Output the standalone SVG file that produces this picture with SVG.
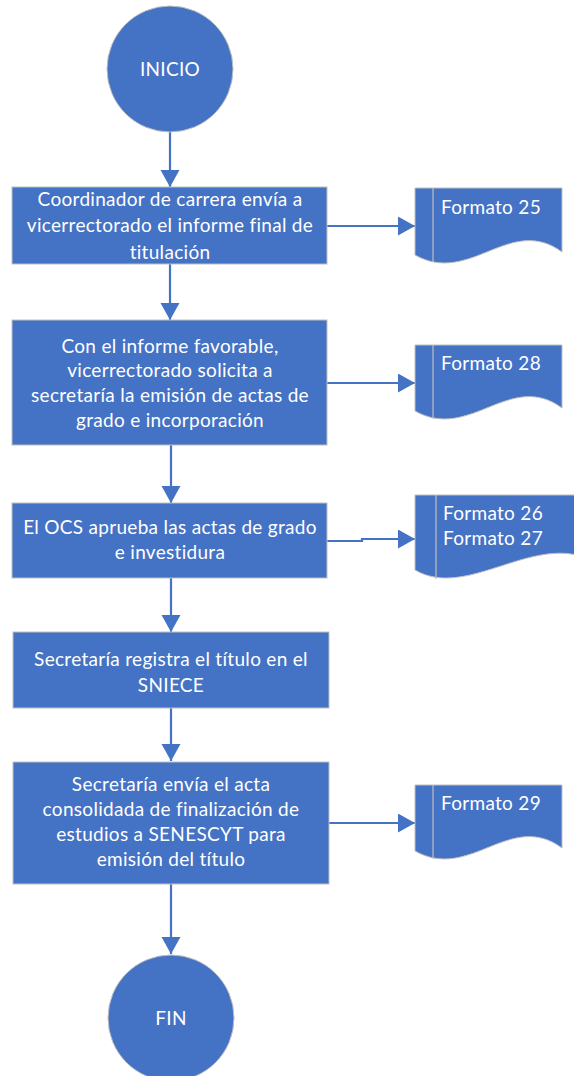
<svg xmlns="http://www.w3.org/2000/svg" width="574" height="1076" viewBox="0 0 574 1076">
<style>
.shape{fill:#4472C4;stroke:#BFBFBF;stroke-width:1}
.inner{fill:none;stroke:#BFBFBF;stroke-width:1.2}
.t{fill:#FFFFFF;font-family:Lato,"Liberation Sans",sans-serif;font-size:19px;letter-spacing:0.3px}
.c{text-anchor:middle}
.conn{fill:none;stroke:#4472C4;stroke-width:2.2}
</style>
<defs>
<marker id="ah" markerUnits="userSpaceOnUse" markerWidth="20" markerHeight="20" refX="17" refY="9.5" orient="auto">
<path d="M0,0 L17,9.5 L0,19 Z" fill="#4472C4"/>
</marker>
</defs>
<rect width="574" height="1076" fill="#FFFFFF"/>
<g id="connectors">
<path class="conn" d="M170,132 V187" marker-end="url(#ah)"/>
<path class="conn" d="M170,264 V320" marker-end="url(#ah)"/>
<path class="conn" d="M171,445 V503" marker-end="url(#ah)"/>
<path class="conn" d="M171,578 V632" marker-end="url(#ah)"/>
<path class="conn" d="M171,708 V761" marker-end="url(#ah)"/>
<path class="conn" d="M171,884 V954" marker-end="url(#ah)"/>
<path class="conn" d="M327,226 H415" marker-end="url(#ah)"/>
<path class="conn" d="M327,383 H415" marker-end="url(#ah)"/>
<path class="conn" d="M327,541 H362 V539 H415" marker-end="url(#ah)"/>
<path class="conn" d="M327,823 H415" marker-end="url(#ah)"/>
</g>
<g id="inicio">
<circle class="shape" cx="170" cy="69" r="63"/>
<text class="t c" x="170" y="76">INICIO</text>
</g>
<g id="paso1">
<rect class="shape" x="12" y="187" width="315" height="77"/>
<text class="t c" x="170" y="206">Coordinador de carrera envía a</text>
<text class="t c" x="170" y="232">vicerrectorado el informe final de</text>
<text class="t c" x="170" y="259">titulación</text>
</g>
<g id="formato25">
<path class="shape" d="M415,188 H562 V252 C510,214 470,286 415,255 Z"/>
<path class="inner" d="M433,188 V262"/>
<text class="t" x="441" y="214">Formato 25</text>
</g>
<g id="paso2">
<rect class="shape" x="12" y="320" width="315" height="125"/>
<text class="t c" x="170" y="353">Con el informe favorable,</text>
<text class="t c" x="170" y="377">vicerrectorado solicita a</text>
<text class="t c" x="170" y="402">secretaría la emisión de actas de</text>
<text class="t c" x="170" y="427">grado e incorporación</text>
</g>
<g id="formato28">
<path class="shape" d="M415,345 H562 V408 C510,370 470,442 415,411 Z"/>
<path class="inner" d="M433,345 V419"/>
<text class="t" x="441" y="370">Formato 28</text>
</g>
<g id="paso3">
<rect class="shape" x="12" y="503" width="315" height="75"/>
<text class="t c" x="170" y="534">El OCS aprueba las actas de grado</text>
<text class="t c" x="170" y="559">e investidura</text>
</g>
<g id="formato26_27">
<path class="shape" d="M415,495 H600 V565 C540,525 470,602 415,570 Z"/>
<path class="inner" d="M436,495 V579"/>
<text class="t" x="443" y="520">Formato 26</text>
<text class="t" x="443" y="545">Formato 27</text>
</g>
<g id="paso4">
<rect class="shape" x="13" y="632" width="316" height="76"/>
<text class="t c" x="171" y="666">Secretaría registra el título en el</text>
<text class="t c" x="171" y="692">SNIECE</text>
</g>
<g id="paso5">
<rect class="shape" x="13" y="762" width="316" height="122"/>
<text class="t c" x="171" y="791">Secretaría envía el acta</text>
<text class="t c" x="171" y="816">consolidada de finalización de</text>
<text class="t c" x="171" y="841">estudios a SENESCYT para</text>
<text class="t c" x="171" y="866">emisión del título</text>
</g>
<g id="formato29">
<path class="shape" d="M415,785 H562 V848 C510,810 470,882 415,851 Z"/>
<path class="inner" d="M433,785 V859"/>
<text class="t" x="441" y="810">Formato 29</text>
</g>
<g id="fin">
<circle class="shape" cx="171" cy="1018" r="63"/>
<text class="t c" x="171" y="1025">FIN</text>
</g>
</svg>
